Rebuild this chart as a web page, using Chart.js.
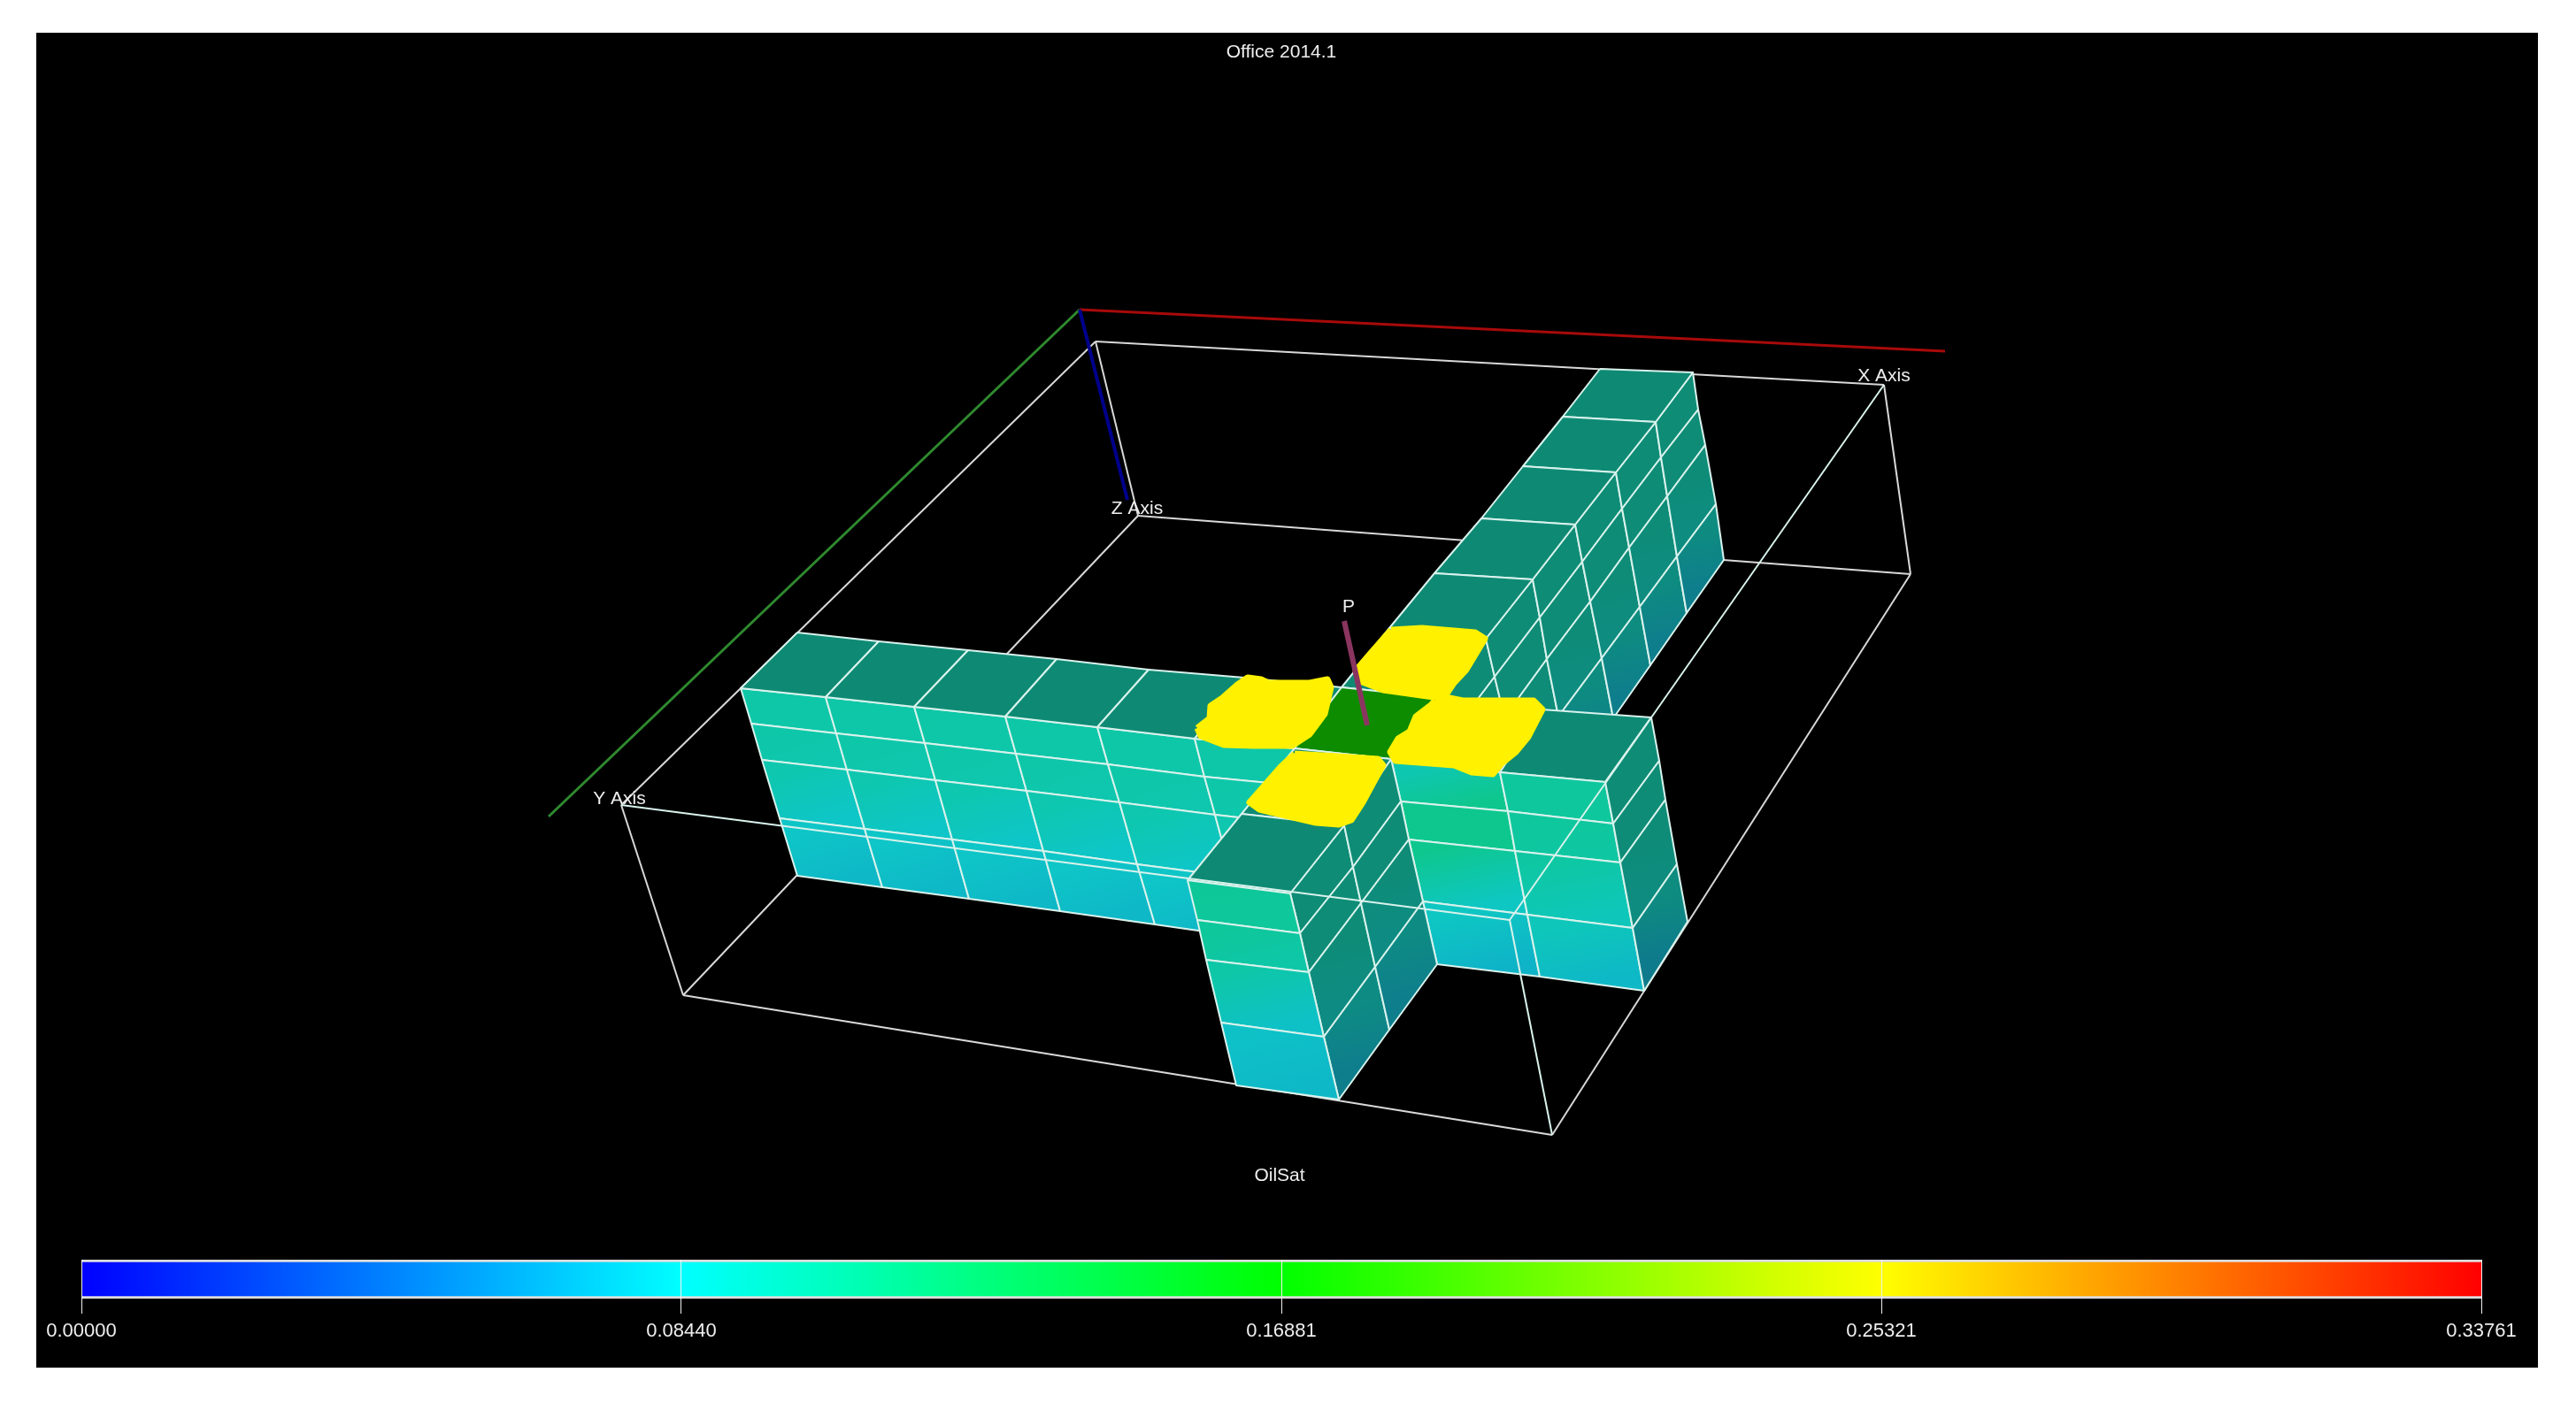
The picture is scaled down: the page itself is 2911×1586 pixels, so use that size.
<!DOCTYPE html>
<html>
<head>
<meta charset="utf-8">
<title>OilSat</title>
<script src="https://cdn.jsdelivr.net/npm/chart.js@4"></script>
<style>
  html, body { margin: 0; background: #fff; }
  canvas { position: absolute; left: 41px; }
  #view { top: 37px; background: #000; }
  #colorbar { top: 1400px; }
</style>
</head>
<body>
<canvas id="view" width="2827" height="1509"></canvas>
<canvas id="colorbar" width="2827" height="146"></canvas>
<script>
// colour scale
const colorTicks = [0, 0.08440, 0.16881, 0.25321, 0.33761];
const colorStops = ['#0000ff', '#00ffff', '#00ff00', '#ffff00', '#ff0000'];

// labels in the view
const viewLabels = ['Office 2014.1', 'X Axis', 'Y Axis', 'Z Axis', 'P', 'OilSat'];
const viewLabelPos = [[1448, 59], [2129, 425], [700, 903], [1285, 575], [1524, 686], [1446, 1329]];

// bounding box
const boxBack = [
  [[1238, 386], [2129, 435]], [[1238, 386], [1286, 583]], [[2129, 435], [2159, 649]],
  [[1286, 583], [2159, 649]], [[1286, 583], [772, 1125]], [[2159, 649], [1754, 1283]],
  [[772, 1125], [1754, 1283]], [[702, 910], [772, 1125]], [[1238, 386], [702, 910]]
];
const boxFront = [
  [[702, 910], [1706, 1040]], [[2129, 435], [1706, 1040]], [[1706, 1040], [1754, 1283]]
];
const axisX = [[1220, 350], [2198, 397]];
const axisY = [[1220, 350], [620, 923]];
const axisZ = [[1220, 350], [1274, 565]];
const wellP = [[1519, 702], [1545, 820]];

// cell corners of each visible face, row by row
const northTop = [
  [[1808, 417], [1913, 421]], [[1766, 471], [1871, 477]], [[1721, 527], [1826, 534]],
  [[1674, 586], [1780, 593]], [[1621, 648], [1732, 655]], [[1570, 710], [1679, 722]],
  [[1516, 777], [1621, 788]]
];
const northSide = [
  [[1621, 788], [1679, 722], [1732, 655], [1780, 593], [1826, 534], [1871, 477], [1913, 421]],
  [[1640, 830], [1689, 765], [1740, 698], [1788, 635], [1833, 575], [1877, 517], [1919, 463]],
  [[1650, 880], [1700, 811], [1748, 745], [1797, 680], [1841, 619], [1884, 561], [1927, 503]],
  [[1660, 950], [1715, 872], [1761, 810], [1810, 744], [1853, 686], [1895, 629], [1939, 570]],
  [[1670, 1020], [1731, 942], [1774, 881], [1823, 812], [1865, 752], [1906, 693], [1948, 633]]
];
const westTop = [
  [[901, 715], [993, 725], [1094, 735], [1194, 745], [1298, 757], [1406, 766], [1516, 777]],
  [[837, 778], [933, 788], [1033, 799], [1136, 810], [1240, 822], [1350, 835], [1463, 846]]
];
const westFront = [
  [[837, 778], [933, 788], [1033, 799], [1136, 810], [1240, 822], [1350, 835], [1463, 846]],
  [[849, 818], [945, 829], [1045, 840], [1148, 852], [1252, 864], [1361, 878], [1475, 889]],
  [[861, 859], [957, 870], [1057, 882], [1160, 894], [1265, 907], [1373, 921], [1487, 934]],
  [[881, 925], [977, 937], [1076, 949], [1179, 962], [1285, 977], [1392, 991], [1506, 1005]],
  [[901, 990], [997, 1003], [1095, 1016], [1198, 1030], [1305, 1045], [1410, 1060], [1525, 1076]]
];
const eastTop = [
  [[1621, 788], [1742, 802], [1866, 811]],
  [[1572, 858], [1695, 873], [1814, 884]]
];
const eastFrontA = [
  [[1572, 858], [1695, 873]], [[1583, 906], [1704, 917]], [[1592, 949], [1712, 962]],
  [[1608, 1019], [1726, 1034]], [[1624, 1090], [1740, 1104]]
];
const eastFrontB = [
  [[1695, 873], [1814, 884]], [[1704, 917], [1823, 931]], [[1712, 962], [1831, 975]],
  [[1726, 1034], [1845, 1049]], [[1740, 1104], [1858, 1120]]
];
const eastSide = [
  [[1814, 884], [1866, 811]], [[1823, 931], [1875, 860]], [[1831, 975], [1882, 904]],
  [[1845, 1049], [1895, 977]], [[1858, 1120], [1907, 1042]]
];
const southTop = [
  [[1463, 846], [1572, 858]], [[1403, 920], [1519, 933]], [[1342, 995], [1458, 1010]]
];
const southSide = [
  [[1458, 1010], [1519, 933], [1572, 858]], [[1469, 1055], [1529, 980], [1583, 906]],
  [[1479, 1099], [1538, 1021], [1592, 949]], [[1496, 1172], [1554, 1093], [1608, 1019]],
  [[1513, 1243], [1570, 1164], [1624, 1090]]
];
const southFront = [
  [[1342, 995], [1458, 1010]], [[1353, 1040], [1469, 1055]], [[1363, 1085], [1479, 1099]],
  [[1380, 1156], [1496, 1172]], [[1397, 1227], [1513, 1243]]
];
const centerTop = [[[1516, 777], [1621, 788]], [[1463, 846], [1572, 858]]];

// oil saturation per row of corners
const topOil = [0.098, 0.098];
const northTopOil = [0.098, 0.098, 0.098, 0.098, 0.098, 0.098, 0.098];
const northSideOil = [0.098, 0.098, 0.097, 0.092, 0.076];
const westFrontOil = [0.098, 0.097, 0.095, 0.084, 0.078];
const eastFrontAOil = [0.094, 0.108, 0.108, 0.086, 0.076];
const eastFrontBOil = [0.102, 0.102, 0.100, 0.090, 0.078];
const eastSideOil = [0.098, 0.098, 0.097, 0.092, 0.074];
const southTopOil = [0.098, 0.098, 0.098];
const southSideOil = [0.098, 0.098, 0.097, 0.090, 0.076];
const southFrontOil = [0.104, 0.103, 0.098, 0.082, 0.078];
const centerOil = [0.1688, 0.1688];
const yellowOil = 0.258;

// the four painted cells round the well
const yellowWest = [[1353, 823], [1367, 812], [1368, 798], [1380, 790], [1397, 775], [1410, 766], [1425, 768], [1433, 772], [1480, 772], [1500, 768], [1504, 777], [1497, 807], [1480, 830], [1460, 843], [1417, 843], [1383, 842], [1357, 832]];
const yellowNorth = [[1572, 712], [1607, 710], [1667, 715], [1678, 722], [1657, 757], [1643, 772], [1633, 787], [1620, 788], [1563, 780], [1537, 770], [1532, 758], [1550, 737]];
const yellowEast = [[1622, 792], [1633, 788], [1653, 792], [1733, 792], [1743, 802], [1727, 833], [1713, 850], [1697, 863], [1687, 875], [1663, 873], [1643, 865], [1577, 860], [1571, 850], [1580, 835], [1593, 827], [1600, 810], [1617, 797]];
const yellowSouth = [[1463, 852], [1557, 858], [1563, 865], [1553, 883], [1540, 907], [1527, 927], [1513, 932], [1487, 930], [1423, 915], [1412, 907], [1427, 890], [1447, 867]];

function parseStop(s) {
  return [1, 3, 5].map(k => parseInt(s.substr(k, 2), 16));
}
function oilColor(v, shade) {
  const pos = Math.min(v / colorTicks[4], 1) * 4;
  const i = Math.min(Math.floor(pos), 3);
  const t = pos - i;
  const a = parseStop(colorStops[i]), b = parseStop(colorStops[i + 1]);
  const mix = a.map((c, k) => (c + (b[k] - c) * t) * shade);
  return 'rgb(' + Math.max(mix[0], 14 * (shade < 1 ? 1 : 0)) + ',' + mix[1] + ',' + mix[2] + ')';
}
function toXY(pts) {
  return pts.map(p => ({ x: p[0], y: p[1] }));
}

const datasets = [];
function addLine(pts, color, width) {
  datasets.push({ data: toXY(pts), showLine: true, fill: false, borderColor: color, borderWidth: width, pointRadius: 0 });
}
function addShape(pts, background, border, width) {
  datasets.push({
    data: toXY(pts.concat([pts[0]])), showLine: true, fill: 'shape', backgroundColor: background,
    borderColor: border, borderWidth: width, borderJoinStyle: 'round', pointRadius: 0
  });
}
// one polygon per cell, shaded between the oil values of its two rows
function addGrid(rows, oil, shade) {
  for (let r = 0; r < rows.length - 1; r++) {
    for (let c = 0; c < rows[r].length - 1; c++) {
      const a = rows[r][c], b = rows[r][c + 1], d = rows[r + 1][c], e = rows[r + 1][c + 1];
      const c0 = oilColor(oil[r], shade), c1 = oilColor(oil[r + 1], shade);
      const bg = function (ctx) {
        const sx = ctx.chart.scales.x, sy = ctx.chart.scales.y;
        if (!sx || !sy || !ctx.chart.chartArea) return c0;
        const ax = sx.getPixelForValue((a[0] + b[0]) / 2), ay = sy.getPixelForValue((a[1] + b[1]) / 2);
        const bx = sx.getPixelForValue((d[0] + e[0]) / 2), by = sy.getPixelForValue((d[1] + e[1]) / 2);
        const g = ctx.chart.ctx.createLinearGradient(ax, ay, bx, by);
        g.addColorStop(0, c0);
        g.addColorStop(1, c1);
        return g;
      };
      addShape([a, b, e, d], bg, '#d8f2ec', 2);
    }
  }
}

// painter's order, furthest first
boxBack.forEach(l => addLine(l, '#d8d8d8', 2));
addLine(axisX, '#a80a0a', 3);
addLine(axisY, '#2f8a2f', 3);
addLine(axisZ, '#00008c', 4);
addGrid(northSide, northSideOil, 0.55);
addGrid(northTop, northTopOil, 0.54);
addGrid(westFront, westFrontOil, 0.78);
addGrid(westTop, topOil, 0.54);
addGrid(eastTop, topOil, 0.54);
addGrid(centerTop, centerOil, 0.55);
addGrid(eastFrontA, eastFrontAOil, 0.78);
addGrid(eastFrontB, eastFrontBOil, 0.78);
addGrid(eastSide, eastSideOil, 0.55);
addGrid(southSide, southSideOil, 0.55);
addGrid(southTop, southTopOil, 0.54);
addGrid(southFront, southFrontOil, 0.78);
[yellowWest, yellowNorth, yellowEast, yellowSouth].forEach(p => addShape(p, oilColor(yellowOil, 1), oilColor(yellowOil, 1), 7));
boxFront.forEach(l => addLine(l, '#d8f2ec', 2));
addLine(wellP, '#8a3560', 6);
datasets.forEach((d, i) => { d.order = -i; });

const labelPlugin = {
  id: 'viewLabels',
  afterDatasetsDraw(chart) {
    const ctx = chart.ctx;
    ctx.save();
    ctx.font = '21px "Liberation Sans"';
    ctx.fillStyle = '#eeeeee';
    ctx.textAlign = 'center';
    ctx.textBaseline = 'middle';
    viewLabels.forEach((t, i) => {
      ctx.fillText(t, chart.scales.x.getPixelForValue(viewLabelPos[i][0]), chart.scales.y.getPixelForValue(viewLabelPos[i][1]));
    });
    ctx.restore();
  }
};

new Chart(document.getElementById('view'), {
  type: 'scatter',
  data: { datasets: datasets },
  plugins: [labelPlugin],
  options: {
    responsive: false,
    animation: false,
    events: [],
    layout: { padding: 0 },
    elements: { line: { tension: 0 } },
    plugins: { legend: { display: false }, tooltip: { enabled: false }, title: { display: false } },
    scales: {
      x: { type: 'linear', display: false, min: 41, max: 2868 },
      y: { type: 'linear', display: false, min: 37, max: 1546, reverse: true }
    }
  }
});

new Chart(document.getElementById('colorbar'), {
  type: 'bar',
  data: {
    labels: ['OilSat'],
    datasets: [{
      data: [colorTicks[4]],
      barPercentage: 1,
      categoryPercentage: 1,
      borderColor: '#dcdcdc',
      borderWidth: { top: 3, bottom: 3, left: 0, right: 0 },
      borderSkipped: false,
      backgroundColor: function (ctx) {
        const area = ctx.chart.chartArea;
        if (!area) return colorStops[0];
        const g = ctx.chart.ctx.createLinearGradient(area.left, 0, area.right, 0);
        colorStops.forEach((c, i) => g.addColorStop(i / 4, c));
        return g;
      }
    }]
  },
  options: {
    indexAxis: 'y',
    responsive: false,
    animation: false,
    events: [],
    layout: { padding: { left: 51, right: 64, top: 24, bottom: 0 } },
    plugins: { legend: { display: false }, tooltip: { enabled: false } },
    scales: {
      x: {
        type: 'linear',
        min: colorTicks[0],
        max: colorTicks[4],
        border: { display: false },
        afterBuildTicks: s => { s.ticks = colorTicks.map(v => ({ value: v })); },
        afterFit: s => { s.height = 78; },
        grid: { color: '#f0f0f0', lineWidth: 1, tickLength: 17, z: 1 },
        ticks: {
          color: '#eeeeee',
          font: { family: 'Liberation Sans', size: 22 },
          padding: 7,
          maxRotation: 0,
          autoSkip: false,
          callback: v => Number(v).toFixed(5)
        }
      },
      y: { display: false }
    }
  }
});
</script>
</body>
</html>
